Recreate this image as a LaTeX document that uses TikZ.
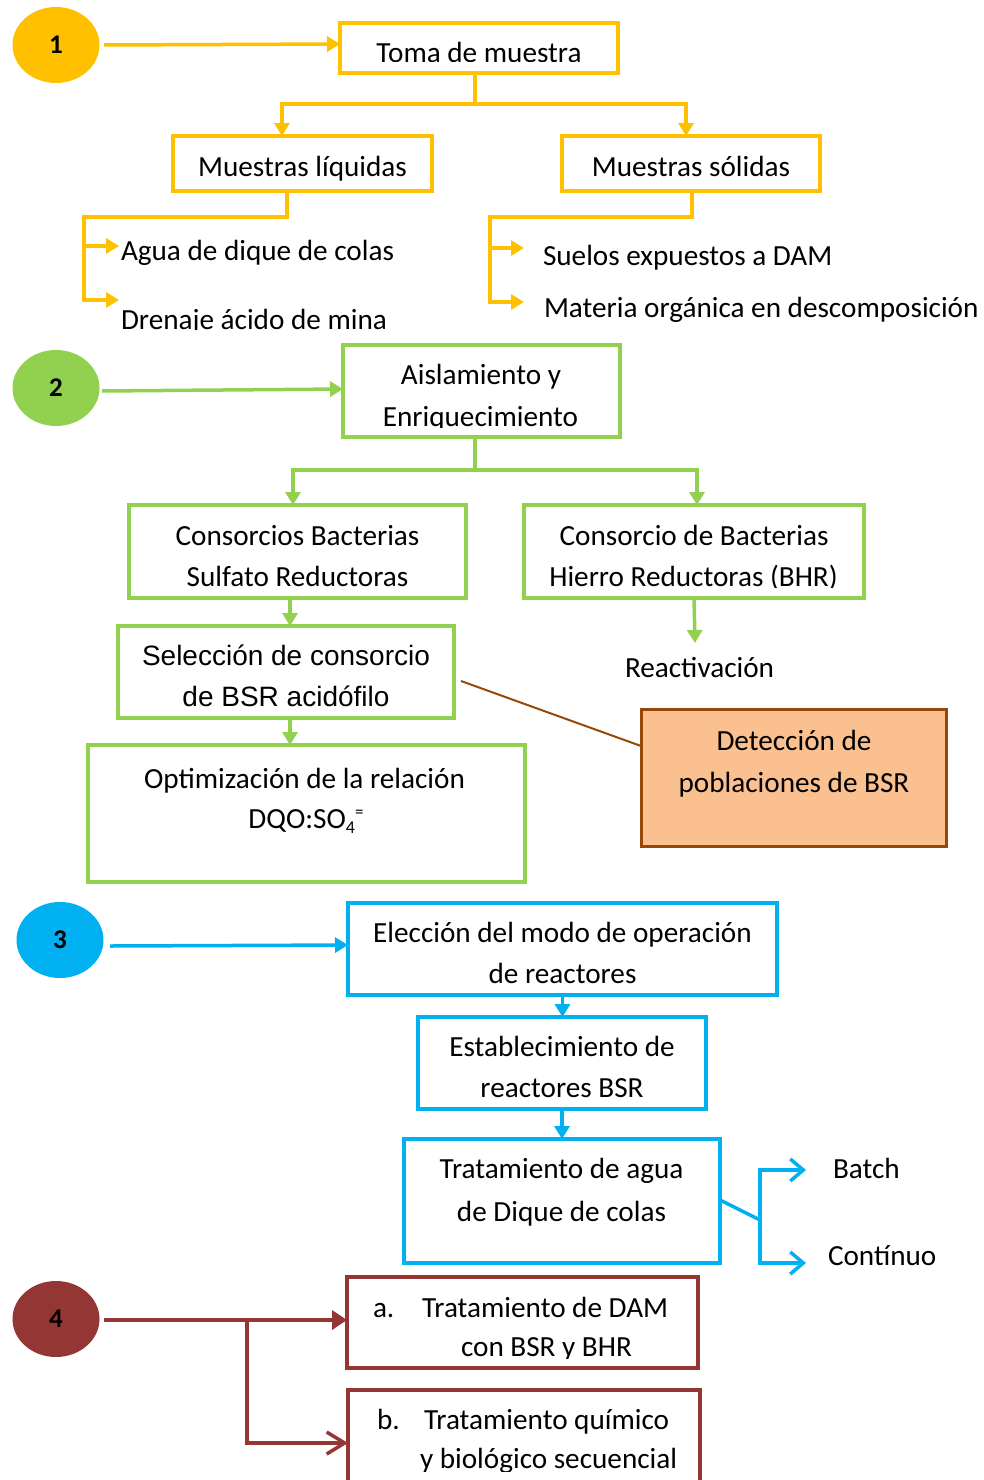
\documentclass[tikz,border=0pt]{standalone}
\usepackage{fontspec}
\setmainfont{Carlito}
\newfontfamily\arialfont{Liberation Sans}
\usetikzlibrary{arrows.meta,shapes.geometric}
\definecolor{cy}{HTML}{FFC000}
\definecolor{cg}{HTML}{92D050}
\definecolor{cb}{HTML}{00B0F0}
\definecolor{cr}{HTML}{943634}
\definecolor{cbrown}{HTML}{984806}
\definecolor{corange}{HTML}{FAC090}
\begin{document}
\begin{tikzpicture}[x=1pt,y=-1pt,
  every node/.style={inner sep=0pt, outer sep=0pt, font=\fontsize{29.2}{35}\selectfont},
  box/.style={draw, rectangle, line width=3.5pt, inner sep=0pt},
  boxY/.style={box, draw=cy},
  boxG/.style={box, draw=cg},
  boxB/.style={box, draw=cb, line width=4pt},
  boxR/.style={box, draw=cr, line width=4.5pt},
  badge/.style={ellipse, minimum width=87pt, minimum height=76pt,
    font=\fontsize{27}{27}\selectfont\bfseries},
  lineY/.style={draw=cy, line width=3.5pt},
  lineG/.style={draw=cg, line width=3.5pt},
  lineB/.style={draw=cb, line width=3.5pt},
  lineR/.style={draw=cr, line width=3.5pt},
  fhead/.style={-{Triangle[length=13pt,width=15pt]}},
  fheadR/.style={-{Triangle[length=15pt,width=19pt]}},
  bhead/.style={-{Straight Barb[length=13pt,width=22pt]}},
  bheadR/.style={-{Straight Barb[length=18pt,width=22pt]}},
  arialtext/.style={font=\arialfont\fontsize{28}{32}\selectfont},
]
\useasboundingbox (0,0) rectangle (984,1480);
\clip (0,0) rectangle (984,1480);

% ---------- 1: muestreo ----------
\node[badge, fill=cy] (c1) at (56,45) {1};
\node[boxY, minimum width=278pt, minimum height=50pt] (toma) at (479,48) {};
\begin{scope}
  \clip (340,23) rectangle (618,62);
  \node[anchor=base] (tomaT) at (479,63) {Toma de muestra};
\end{scope}
\coordinate (c1o) at (104,45);
\draw[lineY, fhead] (c1o) -- (toma.west |- 0,44);

\node[boxY, minimum width=259pt, minimum height=55pt] (liq) at (302.5,163.5) {};
\node[anchor=base] (liqT) at (302.5,176) {Muestras líquidas};
\node[boxY, minimum width=258pt, minimum height=55pt] (sol) at (691,163.5) {};
\node[anchor=base] (solT) at (691,176) {Muestras sólidas};

\coordinate (j1) at (475,104);
\draw[lineY] (j1 |- toma.south) -- (j1);
\draw[lineY, fhead] (j1) -| (282,0 |- liq.north);
\draw[lineY, fhead] (j1) -| (686,0 |- sol.north);

% liquid samples
\coordinate (b1) at (287,217);
\coordinate (b2) at (84,217);
\coordinate (t1) at (119,246);
\coordinate (t2) at (119,300);
\draw[lineY, fhead] (b1 |- liq.south) -- (b1) -- (b2) |- (t2);
\draw[lineY, fhead] (b2 |- t1) -- (t1);
\node[anchor=base west] (agua) at (121,260) {Agua de dique de colas};
\begin{scope}
  \clip (100,290) rectangle (500,329.5);
  \node[anchor=base west] (dren) at (121,329) {Drenaje ácido de mina};
\end{scope}

% solid samples
\coordinate (d1) at (692,217);
\coordinate (d2) at (490,217);
\coordinate (u1) at (524,248);
\coordinate (u2) at (524,302);
\draw[lineY, fhead] (d1 |- sol.south) -- (d1) -- (d2) |- (u2);
\draw[lineY, fhead] (d2 |- u1) -- (u1);
\node[anchor=base west] (suelos) at (543,265) {Suelos expuestos a DAM};
\node[anchor=base west] (materia) at (544,317) {Materia orgánica en descomposición};

% ---------- 2: aislamiento ----------
\node[badge, fill=cg] (c2) at (56,388) {2};
\node[boxG, minimum width=277pt, minimum height=92pt] (aisl) at (481.5,391) {};
\node[anchor=base] (aislT1) at (481,384) {Aislamiento y};
\begin{scope}
  \clip (343,345) rectangle (620,427);
  \node[anchor=base] (aislT2) at (480.5,426) {Enriquecimiento};
\end{scope}
\coordinate (c2o) at (102,391);
\draw[lineG, fhead] (c2o) -- (aisl.west |- 0,389);

\node[boxG, minimum width=337pt, minimum height=93pt] (cbsr) at (297.5,551.5) {};
\node[anchor=base] (cbsrT1) at (297.5,545) {Consorcios Bacterias};
\node[anchor=base] (cbsrT2) at (297.5,586) {Sulfato Reductoras};
\node[boxG, minimum width=340pt, minimum height=93pt] (cbhr) at (694,551.5) {};
\node[anchor=base] (cbhrT1) at (694,545) {Consorcio de Bacterias};
\begin{scope}
  \clip (524,505) rectangle (864,587);
  \node[anchor=base] (cbhrT2) at (693.5,586) {Hierro Reductoras (BHR)};
\end{scope}

\coordinate (j2) at (475,470);
\draw[lineG] (j2 |- aisl.south) -- (j2);
\draw[lineG, fhead] (j2) -| (293,0 |- cbsr.north);
\draw[lineG, fhead] (j2) -| (697,0 |- cbhr.north);

\coordinate (re) at (695,643);
\draw[lineG, fhead] (694,0 |- cbhr.south) -- (re);
\node[anchor=base] (react) at (699.5,677) {Reactivación};

\node[boxG, minimum width=336pt, minimum height=92pt] (sel) at (286,672) {};
\node[anchor=base, arialtext] (selT1) at (286,665) {Selección de consorcio};
\node[anchor=base, arialtext] (selT2) at (286,706) {de BSR acidófilo};
\draw[lineG, fhead] (290,0 |- cbsr.south) -- (290,0 |- sel.north);

\node[boxG, minimum width=437pt, minimum height=137pt] (opt) at (306.5,813.5) {};
\node[anchor=base] (optT1) at (304.5,788) {Optimización de la relación};
\node[anchor=base] (optT2) at (306,828) {DQO:SO\raisebox{-5pt}{\fontsize{18}{18}\selectfont 4}\raisebox{11pt}{\fontsize{17}{17}\selectfont =}};
\draw[lineG, fhead] (290,0 |- sel.south) -- (290,0 |- opt.north);

\node[box, draw=cbrown, fill=corange, line width=3pt,
      minimum width=305pt, minimum height=137pt] (det) at (793.5,777.5) {};
\node[anchor=base] (detT1) at (794,750) {Detección de};
\node[anchor=base] (detT2) at (794,792) {poblaciones de BSR};
\coordinate (s1) at (461,681);
\draw[cbrown, line width=2pt] (s1) -- (det.west |- 0,746);

% ---------- 3: reactores ----------
\node[badge, fill=cb] (c3) at (60,940) {3};
\node[boxB, minimum width=429pt, minimum height=92pt] (elec) at (562.5,949) {};
\node[anchor=base] (elecT1) at (562.5,942) {Elección del modo de operación};
\node[anchor=base] (elecT2) at (562.5,983) {de reactores};
\coordinate (c3o) at (110,946);
\draw[lineB, fhead] (c3o) -- (elec.west |- 0,945);

\node[boxB, minimum width=288pt, minimum height=92pt] (estab) at (562,1063) {};
\node[anchor=base] (estabT1) at (562,1056) {Establecimiento de};
\node[anchor=base] (estabT2) at (562,1097) {reactores BSR};
\draw[lineB, fhead] (elec.south) -- (elec.south |- estab.north);

\node[boxB, minimum width=316pt, minimum height=124pt] (trat) at (562,1201) {};
\node[anchor=base] (tratT1) at (561.5,1178) {Tratamiento de agua};
\node[anchor=base] (tratT2) at (561.5,1221) {de Dique de colas};
\draw[lineB, fhead] (estab.south) -- (estab.south |- trat.north);

\coordinate (k1) at (760,1220);
\coordinate (kb) at (806,1170);
\coordinate (kc) at (806,1263);
\draw[lineB] (trat.east |- 0,1200) -- (k1);
\draw[lineB, bhead] (k1) |- (kb);
\draw[lineB, bhead] (k1) |- (kc);
\node[anchor=base west] (batch) at (833,1178) {Batch};
\node[anchor=base west] (cont) at (828,1265) {Contínuo};

% ---------- 4: tratamientos ----------
\node[badge, fill=cr] (c4) at (56,1319) {4};
\node[boxR, minimum width=351pt, minimum height=91pt] (ta) at (522.5,1322.5) {};
\node[anchor=base west] (taA) at (373,1317) {a.};
\node[anchor=base west] (taT1) at (422,1317) {Tratamiento de DAM};
\begin{scope}
  \clip (347,1277) rectangle (698,1358);
  \node[anchor=base west] (taT2) at (461,1356) {con BSR y BHR};
\end{scope}

\node[boxR, minimum width=352pt, minimum height=140pt] (tb) at (524,1460) {};
\node[anchor=base west] (tbB) at (377,1429) {b.};
\node[anchor=base west] (tbT1) at (424,1429) {Tratamiento químico};
\begin{scope}
  \clip (348,1390) rectangle (700,1471);
  \node[anchor=base west] (tbT2) at (420,1468) {y biológico secuencial};
\end{scope}

\coordinate (c4o) at (104,1320);
\coordinate (r1) at (247,1320);
\coordinate (r2) at (247,1443);
\draw[lineR, fheadR] (c4o) -- (ta.west |- c4o);
\draw[lineR, bheadR] (r1) -- (r2) -- (tb.west |- r2);
\end{tikzpicture}
\end{document}
